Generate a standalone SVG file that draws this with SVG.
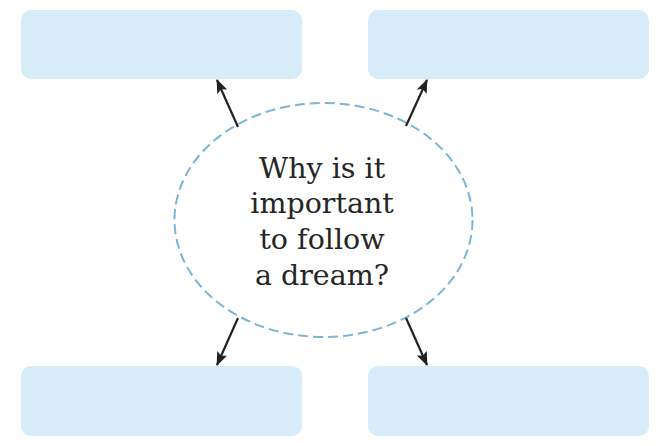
<svg xmlns="http://www.w3.org/2000/svg" width="664" height="446" viewBox="0 0 664 446">
<style>
.box{fill:#d6ecf9;}
.arr{stroke:#222;stroke-width:2.2;fill:none;marker-end:url(#ah);}
.q{font-family:"DejaVu Serif","Liberation Serif",serif;font-size:28.5px;fill:#262626;text-anchor:middle;}
</style>
<defs>
<marker id="ah" viewBox="0 0 14 11" refX="13" refY="5.5" markerWidth="14" markerHeight="11" markerUnits="userSpaceOnUse" orient="auto">
<path d="M0,0 L14,5.5 L0,11 L3,5.5 Z" fill="#222"/>
</marker>
</defs>
<rect width="664" height="446" fill="#fff"/>
<g id="box-top-left"><rect class="box" x="21" y="10" width="281" height="69" rx="10"/></g>
<g id="box-top-right"><rect class="box" x="368" y="10" width="281" height="69" rx="10"/></g>
<g id="box-bottom-left"><rect class="box" x="21" y="366" width="281" height="70" rx="10"/></g>
<g id="box-bottom-right"><rect class="box" x="368" y="366" width="281" height="70" rx="10"/></g>
<g id="center">
<ellipse cx="323.5" cy="220" rx="149" ry="117" fill="none" stroke="#7db4d4" stroke-width="2" stroke-dasharray="10,5"/>
<text class="q" x="322" y="178">Why is it</text>
<text class="q" x="322" y="213">important</text>
<text class="q" x="322" y="249">to follow</text>
<text class="q" x="322" y="285">a dream?</text>
</g>
<g id="connectors">
<line class="arr" x1="238" y1="127" x2="217" y2="80"/>
<line class="arr" x1="406" y1="126" x2="427" y2="80"/>
<line class="arr" x1="238" y1="318" x2="217" y2="365"/>
<line class="arr" x1="406" y1="318" x2="427" y2="365"/>
</g>
</svg>
